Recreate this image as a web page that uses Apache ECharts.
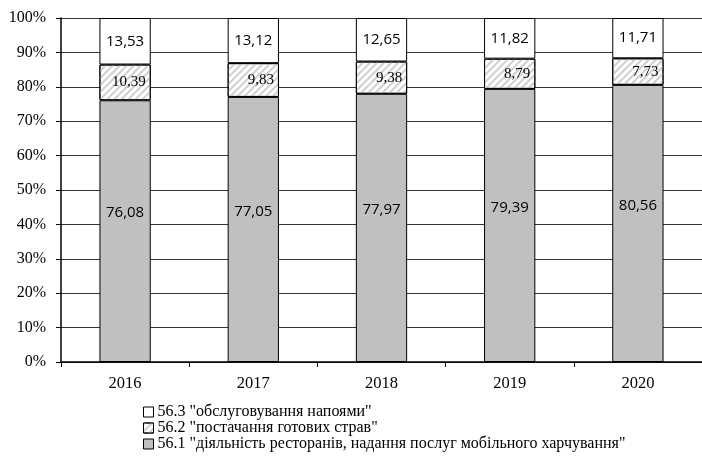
<!DOCTYPE html>
<html><head><meta charset="utf-8">
<script src="https://cdn.jsdelivr.net/npm/echarts@6/dist/echarts.min.js"></script>
<style>html,body{margin:0;padding:0;background:#fff}#c{width:702px;height:457px}</style>
</head><body><div id="c"></div>
<script>
const categories = ['2016','2017','2018','2019','2020'];
const s561 = [76.08, 77.05, 77.97, 79.39, 80.56];
const s562 = [10.39, 9.83, 9.38, 8.79, 7.73];
const s563 = [13.53, 13.12, 12.65, 11.82, 11.71];
const names = ['56.1 "діяльність ресторанів, надання послуг мобільного харчування"',
  '56.2 "постачання готових страв"', '56.3 "обслуговування напоями"'];
const yTicks = [0,10,20,30,40,50,60,70,80,90,100];

const fmt = p => p.value.toFixed(2).replace('.', ',');
const serif = '"Liberation Serif", "DejaVu Serif", serif';
const sans = '"Open Sans", "Liberation Sans", sans-serif';
const chart = echarts.init(document.getElementById('c'));
chart.setOption({
  animation: false,
  grid: {left: 61, right: -9, top: 18, bottom: 95},
  legend: {
    orient: 'vertical', left: 143, top: 404, bottom: 0, icon: 'rect',
    itemWidth: 10, itemHeight: 10, itemGap: 0, padding: [0, 0, 0, 0],
    data: [names[2], names[1], names[0]],
    textStyle: {fontFamily: serif, fontSize: 16, lineHeight: 14, color: '#000', padding: [0, 0, 0, -1]},
    itemStyle: {borderColor: '#000', borderWidth: 1}
  },
  xAxis: {
    type: 'category', data: categories,
    axisLine: {lineStyle: {color: '#000', width: 1.5}},
    axisTick: {show: true, length: 5, lineStyle: {color: '#000'}},
    axisLabel: {fontFamily: serif, fontSize: 16.5, color: '#000', margin: 13}
  },
  yAxis: {
    type: 'value', min: 0, max: 100, interval: 10,
    axisLine: {show: true, lineStyle: {color: '#000', width: 1.5}},
    axisTick: {show: true, length: 5, lineStyle: {color: '#000'}},
    axisLabel: {fontFamily: serif, fontSize: 16, color: '#000', margin: 15,
      formatter: v => yTicks.includes(v) ? v + '%' : ''},
    splitLine: {lineStyle: {color: '#333', width: 1.2}}
  },
  series: [
    {name: names[0], type: 'bar', stack: 't', data: s561, barWidth: '40%',
     itemStyle: {color: '#c0c0c0', borderColor: '#000', borderWidth: 1},
     label: {show: true, position: 'inside', offset: [0, -18], formatter: fmt,
       fontFamily: sans, fontSize: 15, color: '#000'}},
    {name: names[1], type: 'bar', stack: 't', data: s562,
     itemStyle: {color: '#fff', borderColor: '#000', borderWidth: 1,
       decal: {symbol: 'rect', symbolSize: 1, dashArrayX: [1, 0], dashArrayY: [2, 3],
         rotation: -Math.PI / 4, color: '#cfcfcf'}},
     label: {show: true, position: 'insideRight', distance: 5, formatter: fmt,
       fontFamily: serif, fontSize: 15, color: '#000'}},
    {name: names[2], type: 'bar', stack: 't', data: s563,
     itemStyle: {color: '#fff', borderColor: '#000', borderWidth: 1},
     label: {show: true, position: 'inside', formatter: fmt,
       fontFamily: sans, fontSize: 15, color: '#000'}}
  ]
});
</script></body></html>
